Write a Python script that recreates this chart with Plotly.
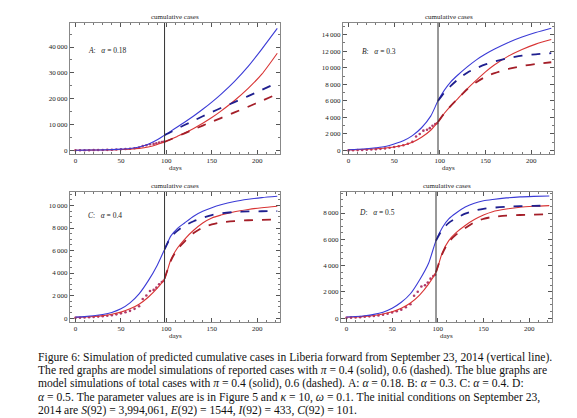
import plotly.graph_objects as go

# ---------------- data ----------------
days_full = [0, 10, 20, 30, 40, 50, 60, 70, 80, 90, 98, 105, 112, 120, 130, 140, 150, 160, 175, 190, 205, 222]
days_post = [98, 105, 112, 120, 130, 140, 150, 160, 175, 190, 205, 222]
vline_day = 98

# Panel A (alpha = 0.18)
blue_solid_A = [80, 110, 150, 210, 300, 470, 750, 1300, 2400, 4100, 5900,
                7450, 9050, 10900, 13300, 15900, 18700, 21700, 26700, 32500, 39200, 47200]
red_solid_A = [60, 80, 110, 150, 210, 320, 490, 760, 1300, 2250, 3300,
               4300, 5400, 6700, 8500, 10500, 12700, 15200, 19300, 24000, 29500, 37600]
blue_dash_A = [5900, 7100, 8400, 9800, 11500, 13200, 14800, 16400, 18700, 21000, 23400, 26200]
red_dash_A = [3300, 4300, 5400, 6600, 8100, 9600, 11100, 12500, 14700, 16900, 19200, 21800]

# Panel B (alpha = 0.3)
blue_solid_B = [100, 150, 220, 330, 480, 800, 1180, 1800, 2750, 4150, 6000,
                7300, 8300, 9150, 10100, 10950, 11650, 12250, 13050, 13700, 14250, 14770]
red_solid_B = [80, 110, 150, 210, 300, 430, 640, 1000, 1600, 2450, 3450,
               4500, 5400, 6300, 7450, 8500, 9500, 10350, 11400, 12200, 12850, 13400]
blue_dash_B = [6000, 7000, 7800, 8600, 9400, 9950, 10400, 10750, 11150, 11450, 11620, 11750]
red_dash_B = [3450, 4500, 5400, 6300, 7400, 8250, 8900, 9350, 9850, 10200, 10450, 10660]

# Panel C (alpha = 0.4)
blue_solid_C = [80, 130, 200, 310, 500, 820, 1350, 2150, 3300, 4700, 6100,
                7300, 7950, 8450, 9050, 9480, 9800, 10060, 10350, 10550, 10700, 10820]
red_solid_C = [60, 95, 145, 220, 340, 530, 820, 1230, 1850, 2650, 3500,
               5200, 6200, 7000, 7800, 8450, 8900, 9150, 9450, 9650, 9800, 9930]
blue_dash_C = [6100, 7200, 7750, 8200, 8600, 8900, 9150, 9300, 9420, 9470, 9490, 9500]
red_dash_C = [3500, 5100, 6100, 6800, 7550, 8050, 8320, 8500, 8620, 8690, 8730, 8750]

# Panel D (alpha = 0.5)
blue_solid_D = [80, 120, 180, 280, 450, 750, 1200, 1850, 2900, 4200, 5900,
                6900, 7550, 8000, 8450, 8750, 8930, 9030, 9150, 9230, 9270, 9300]
red_solid_D = [60, 90, 130, 200, 310, 480, 750, 1150, 1750, 2600, 3500,
               5000, 5900, 6500, 7050, 7500, 7850, 8100, 8300, 8440, 8510, 8560]
blue_dash_D = [5900, 6750, 7250, 7600, 7950, 8180, 8320, 8400, 8480, 8520, 8545, 8560]
red_dash_D = [3500, 4900, 5800, 6350, 6850, 7300, 7560, 7700, 7800, 7850, 7880, 7900]

# Reported cumulative cases (data points)
data_days = [0, 5, 10, 15, 20, 25, 30, 35, 40, 45, 50, 55, 60, 65, 70, 74, 78, 82, 86, 89, 92, 95, 97]
data_cases = [13, 30, 50, 70, 100, 130, 160, 200, 250, 330, 420, 520, 640, 820, 1050, 1700, 2000, 2400, 2500, 2700, 3000, 3200, 3300]

panel_labels = ["A", "B", "C", "D"]
panel_alphas = ["0.18", "0.3", "0.4", "0.5"]
label_pos = [(12, 38700), (13, 11900), (12, 9080), (12, 8050)]
y_ranges = [[-1400, 49300], [-420, 15400], [-350, 11200], [-300, 9600]]
y_ticks = [[0, 10000, 20000, 30000, 40000],
           [0, 2000, 4000, 6000, 8000, 10000, 12000, 14000],
           [0, 2000, 4000, 6000, 8000, 10000],
           [0, 2000, 4000, 6000, 8000]]
x_ticks = [0, 50, 100, 150, 200]
x_range = [-6, 225]

caption_lines = [
    "Figure 6: Simulation of predicted cumulative cases in Liberia forward from September 23, 2014 (vertical line).",
    "The red graphs are model simulations of reported cases with <i>π</i> = 0.4 (solid), 0.6 (dashed). The blue graphs are",
    "model simulations of total cases with <i>π</i> = 0.4 (solid), 0.6 (dashed). A: <i>α</i> = 0.18. B: <i>α</i> = 0.3. C: <i>α</i> = 0.4. D:",
    "<i>α</i> = 0.5. The parameter values are is in Figure 5 and <i>κ</i> = 10, <i>ω</i> = 0.1. The initial conditions on September 23,",
    "2014 are <i>S</i>(92) = 3,994,061, <i>E</i>(92) = 1544, <i>I</i>(92) = 433, <i>C</i>(92) = 101.",
]

# ---------------- styling ----------------
W, H = 577, 418
BLUE = "#3b3bd6"
BLUE_D = "#1f1f8f"
RED = "#d83434"
RED_D = "#a41e28"
DOT = "#b03a6a"
SERIF = "Liberation Serif, DejaVu Serif, serif"

# pixel boxes: (left, right, top, bottom)
boxes = [(62, 272, 15, 146), (335, 546, 15, 146), (62, 272, 184, 314), (333, 544, 184, 314)]

panels = [
    (blue_solid_A, red_solid_A, blue_dash_A, red_dash_A),
    (blue_solid_B, red_solid_B, blue_dash_B, red_dash_B),
    (blue_solid_C, red_solid_C, blue_dash_C, red_dash_C),
    (blue_solid_D, red_solid_D, blue_dash_D, red_dash_D),
]

fig = go.Figure()
layout = dict(width=W, height=H, margin=dict(l=0, r=0, t=0, b=0),
              paper_bgcolor="white", plot_bgcolor="white", showlegend=False,
              font=dict(family=SERIF, color="#222"))
annotations = []
shapes = []


def fmt(v):
    return f"{v:,}".replace(",", "\u2009")


for i, (bs, rs, bd, rd) in enumerate(panels):
    n = "" if i == 0 else str(i + 1)
    xa, ya = "x" + n, "y" + n
    l, r, t, b = boxes[i]
    xdom = [l / W, r / W]
    ydom = [1 - b / H, 1 - t / H]
    axis_common = dict(showgrid=False, zeroline=False, showline=True, linecolor="#888",
                       linewidth=1, mirror="allticks", ticks="inside", ticklen=4,
                       tickcolor="#555", tickwidth=0.8,
                       tickfont=dict(size=7, family=SERIF, color="#222"),
                       minor=dict(ticks="inside", ticklen=2, tickcolor="#777", nticks=5))
    layout["xaxis" + n] = dict(domain=xdom, range=x_range, tickvals=x_ticks,
                               anchor=ya, **axis_common)
    layout["yaxis" + n] = dict(domain=ydom, range=y_ranges[i], tickvals=y_ticks[i],
                               ticktext=[fmt(v) for v in y_ticks[i]],
                               anchor=xa, **axis_common)

    fig.add_trace(go.Scatter(x=data_days, y=data_cases, mode="markers",
                             marker=dict(size=2.6, color=DOT), xaxis=xa, yaxis=ya))
    fig.add_trace(go.Scatter(x=days_full, y=rs, mode="lines", line_shape="spline",
                             line=dict(color=RED, width=1.1, smoothing=0.7), xaxis=xa, yaxis=ya))
    fig.add_trace(go.Scatter(x=days_full, y=bs, mode="lines", line_shape="spline",
                             line=dict(color=BLUE, width=1.1, smoothing=0.7), xaxis=xa, yaxis=ya))
    fig.add_trace(go.Scatter(x=days_post, y=rd, mode="lines", line_shape="spline",
                             line=dict(color=RED_D, width=1.8, dash="dash", smoothing=0.7),
                             xaxis=xa, yaxis=ya))
    fig.add_trace(go.Scatter(x=days_post, y=bd, mode="lines", line_shape="spline",
                             line=dict(color=BLUE_D, width=1.8, dash="dash", smoothing=0.7),
                             xaxis=xa, yaxis=ya))

    shapes.append(dict(type="line", xref=xa, yref=ya + " domain", x0=vline_day, x1=vline_day,
                       y0=0, y1=1, line=dict(color="#333", width=1)))

    annotations.append(dict(text="cumulative cases", xref=xa + " domain", yref="paper",
                            x=0.5, y=1 - (t - 6) / H, showarrow=False,
                            font=dict(size=7, family=SERIF, color="#222"), yanchor="middle"))
    annotations.append(dict(text="days", xref=xa + " domain", yref="paper",
                            x=0.5, y=1 - (b + 14) / H, showarrow=False,
                            font=dict(size=7, family=SERIF, color="#222"), yanchor="middle"))
    lx, ly = label_pos[i]
    annotations.append(dict(text=f"<i>{panel_labels[i]}</i>:   <i>α</i> = {panel_alphas[i]}",
                            xref=xa, yref=ya, x=lx, y=ly, showarrow=False, xanchor="left",
                            font=dict(size=7.5, family=SERIF, color="#222")))

cap_y = [349, 362, 375.5, 389, 402.5]
for txt, yy in zip(caption_lines, cap_y):
    annotations.append(dict(text=txt, xref="paper", yref="paper", x=28 / W, y=1 - yy / H,
                            xanchor="left", yanchor="middle", showarrow=False,
                            font=dict(size=11.6, family=SERIF, color="#111")))

layout["annotations"] = annotations
layout["shapes"] = shapes
fig.update_layout(**layout)
fig.write_html("out.html")
